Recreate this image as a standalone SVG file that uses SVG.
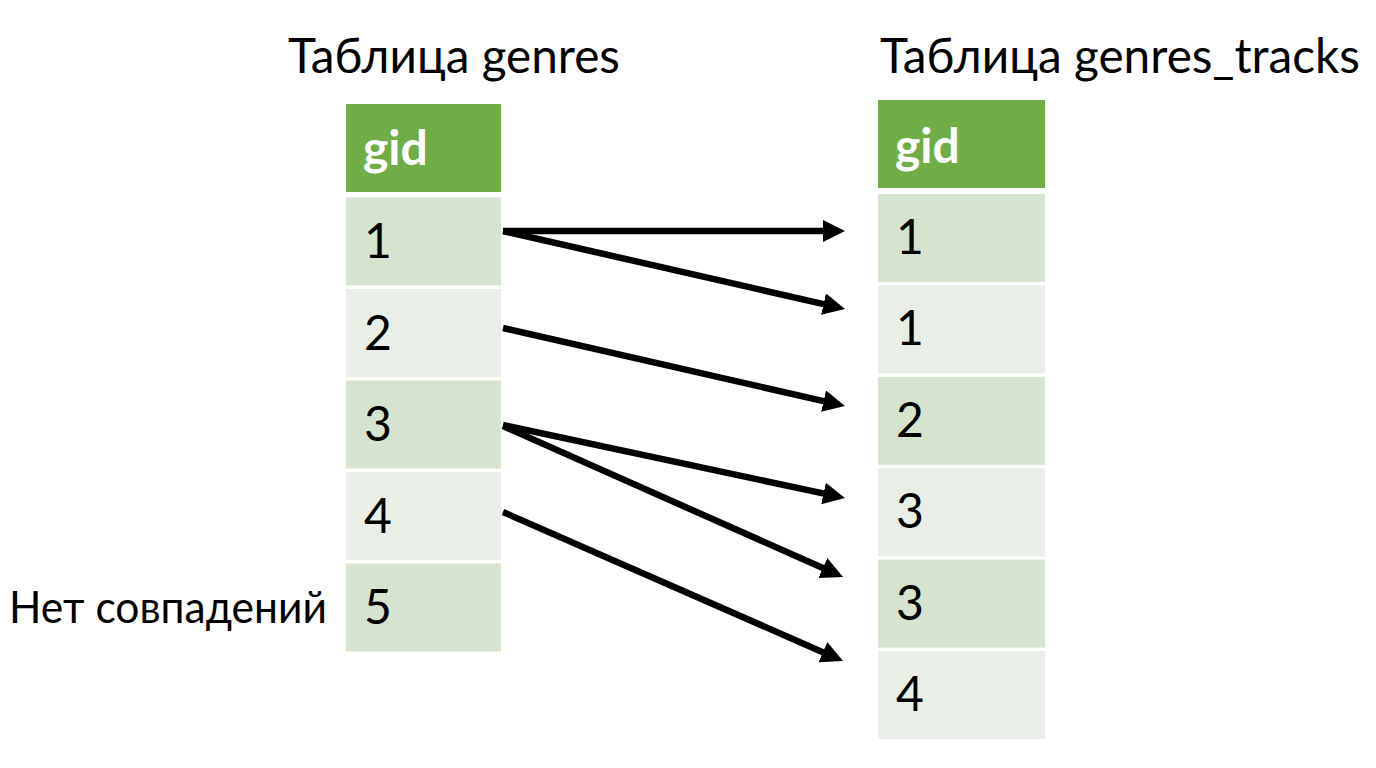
<svg xmlns="http://www.w3.org/2000/svg" width="1376" height="768" viewBox="0 0 1376 768">
<defs>
<style>
.t{font-family:Lato,"Liberation Sans",sans-serif;font-size:48px;fill:#000}
.s{font-family:Lato,"Liberation Sans",sans-serif;font-size:45px;fill:#000}
.h{font-family:Lato,"Liberation Sans",sans-serif;font-size:48px;font-weight:bold;fill:#fff}
.hd{fill:#70AD47}
.dk{fill:#D5E3CF}
.lt{fill:#E9EFE7}
.c{stroke:#000;stroke-width:6.5;fill:none}
</style>
<marker id="ah" markerUnits="userSpaceOnUse" markerWidth="24" markerHeight="24" refX="8" refY="11" orient="auto">
<path d="M0,0 L22,11 L0,22 z" fill="#000"/>
</marker>
</defs>
<rect width="1376" height="768" fill="#fff"/>
<g id="title-genres"><text class="t" x="288" y="73" textLength="332" lengthAdjust="spacingAndGlyphs">Таблица genres</text></g>
<g id="title-genres-tracks"><text class="t" x="880" y="73" textLength="480" lengthAdjust="spacingAndGlyphs">Таблица genres_tracks</text></g>
<g id="genres">
<g id="g-head"><rect class="hd" x="346" y="104" width="155" height="88"/><text class="h" x="363" y="165">gid</text></g>
<g id="g-1"><rect class="dk" x="346" y="197.5" width="155" height="88"/><text class="t" x="364" y="258">1</text></g>
<g id="g-2"><rect class="lt" x="346" y="289" width="155" height="88"/><text class="t" x="364" y="349.5">2</text></g>
<g id="g-3"><rect class="dk" x="346" y="380.5" width="155" height="88"/><text class="t" x="364" y="441">3</text></g>
<g id="g-4"><rect class="lt" x="346" y="472" width="155" height="88"/><text class="t" x="364" y="532.5">4</text></g>
<g id="g-5"><rect class="dk" x="346" y="563.5" width="155" height="88"/><text class="t" x="364" y="624">5</text></g>
</g>
<g id="no-match"><text class="s" x="9" y="623" textLength="318" lengthAdjust="spacingAndGlyphs">Нет совпадений</text></g>
<g id="genres_tracks">
<g id="gt-head"><rect class="hd" x="878" y="100" width="167" height="88"/><text class="h" x="895" y="163">gid</text></g>
<g id="gt-1"><rect class="dk" x="878" y="194" width="167" height="88"/><text class="t" x="896" y="254">1</text></g>
<g id="gt-2"><rect class="lt" x="878" y="285.4" width="167" height="88"/><text class="t" x="896" y="345.4">1</text></g>
<g id="gt-3"><rect class="dk" x="878" y="376.8" width="167" height="88"/><text class="t" x="896" y="436.8">2</text></g>
<g id="gt-4"><rect class="lt" x="878" y="468.2" width="167" height="88"/><text class="t" x="896" y="528.2">3</text></g>
<g id="gt-5"><rect class="dk" x="878" y="559.6" width="167" height="88"/><text class="t" x="896" y="619.6">3</text></g>
<g id="gt-6"><rect class="lt" x="878" y="651" width="167" height="88"/><text class="t" x="896" y="711">4</text></g>
</g>
<g id="connectors">
<line class="c" x1="503" y1="231" x2="831" y2="231" marker-end="url(#ah)"/>
<line class="c" x1="503" y1="231" x2="831.35" y2="305.9" marker-end="url(#ah)"/>
<line class="c" x1="503" y1="328" x2="831.35" y2="402.9" marker-end="url(#ah)"/>
<line class="c" x1="503" y1="425" x2="831.3" y2="495.1" marker-end="url(#ah)"/>
<line class="c" x1="503" y1="426" x2="830.2" y2="571.3" marker-end="url(#ah)"/>
<line class="c" x1="503" y1="512" x2="830.2" y2="655.4" marker-end="url(#ah)"/>
</g>
</svg>
